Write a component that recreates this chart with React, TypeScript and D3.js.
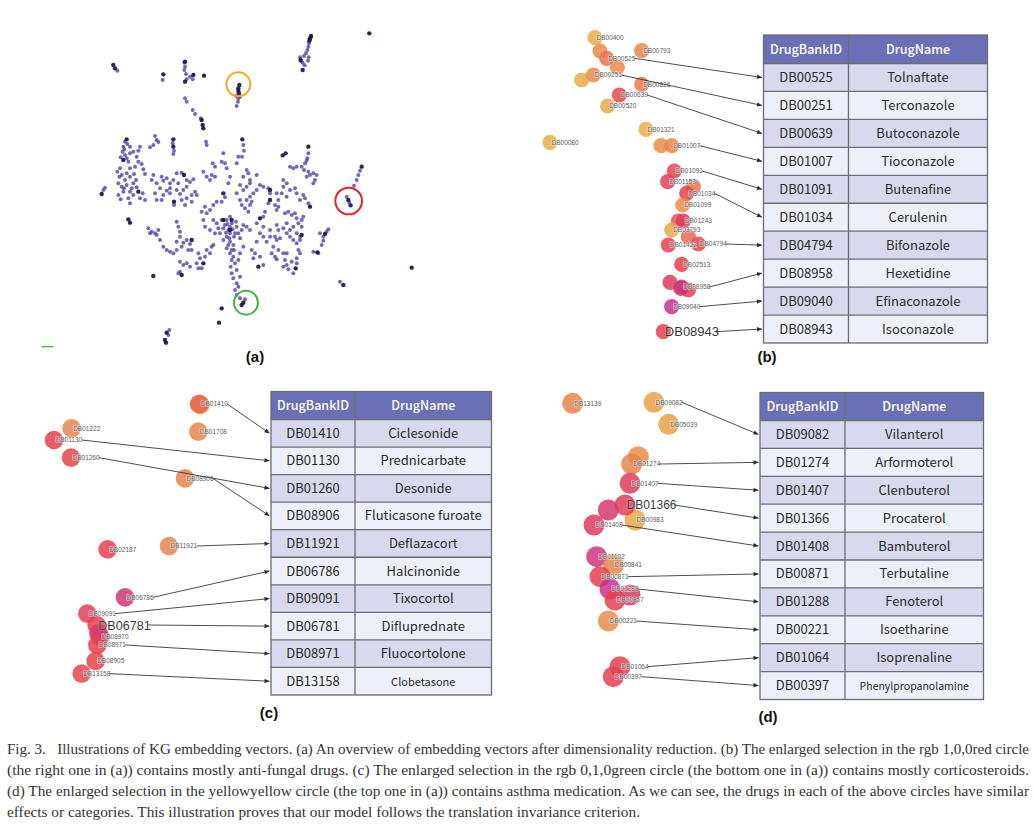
import React from 'react';
import * as d3 from 'd3';

// ---------- (a) overview of the embedding (2-D coordinates after reduction) ----------
const overviewPts: [number, number][] = [
  [843,50],[840,60],[837,70],[835,80],[832,90],[828,100],[822,108],[810,112],[812,122],[818,128],[824,136],[836,112],[834,122],
  [262,152],[398,180],[463,128],[465,140],[463,150],[468,162],[480,170],[488,178],[470,178],[465,235],[470,245],[488,270],[495,282],[512,295],
  [625,235],[624,245],[620,258],[618,228],[630,230],
  [528,365],[530,375],[640,375],[642,392],[636,410],[835,400],[832,415],
  [285,365],[280,380],[292,372],[300,380],[278,395],[285,405],[272,412],[290,415],[300,400],[310,395],[320,410],[325,425],[335,432],[330,380],[325,392],[315,440],[300,445],[270,445],[262,455],[275,465],[290,460],[300,470],[285,480],[265,490],[275,500],[290,495],[310,490],[320,502],[330,535],[345,540],[310,525],[300,515],[280,515],[265,525],[295,535],[300,550],[220,510],[225,503],[340,448],[312,462],[305,505],
  [283,388],[295,425],[268,470],[282,505],[318,480],[338,520],[272,538],
  [375,348],[380,360],[370,375],[360,382],[385,366],[428,370],[432,392],[430,402],
  [345,462],[370,465],[365,480],[380,490],[395,470],[400,482],[410,475],[420,490],[430,480],[440,460],[455,458],[470,480],[480,486],[490,478],[470,500],[460,510],[450,522],[440,510],[420,505],[410,512],[390,505],[375,520],[380,540],[400,525],[432,555],[455,540],[470,535],[485,525],[495,515],[500,525],[485,545],[465,555],[420,520],[395,540],[445,490],
  [355,625],[365,635],[375,640],[385,630],[380,645],[390,660],[400,680],[410,690],[420,695],[440,665],[450,650],[460,668],[470,660],[480,672],[475,690],[485,690],[440,605],[445,620],[450,635],[440,690],[430,700],[360,640],[455,680],
  [450,725],[460,735],[470,730],[480,740],[450,755],[445,760],
  [505,700],[510,715],[515,745],[505,745],[525,710],[540,700],[530,690],[545,680],[550,675],[500,730],
  [520,455],[530,470],[545,465],[555,470],[540,480],[548,430],[555,440],[580,400],[575,425],[585,430],[590,445],[600,470],[595,490],[585,532],[575,545],[560,545],[550,555],[540,570],[525,560],[515,575],[530,580],[550,600],[560,610],[520,600],[525,620],[540,630],[555,640],[575,600],[590,600],[600,590],[605,610],[580,625],[595,630],[600,640],[590,650],[580,660],[600,665],[610,675],[605,690],[600,700],[610,710],[605,720],[615,730],[605,760],[610,775],[620,790],[625,800],[630,770],[620,750],[625,640],[635,630],[640,615],[650,620],[660,630],[620,620],[630,655],[640,680],[630,700],[625,720],[585,615],[570,640],[595,675],[612,650],[618,605],[600,620],[590,685],
  [592,612],[608,628],[615,640],[598,655],[588,638],[612,690],[602,740],[565,625],
  [620,430],[625,410],[650,450],[655,460],[640,470],[660,480],[680,465],[660,490],[650,500],[640,510],[630,495],[620,520],[630,540],[635,555],[645,565],[655,575],[660,555],[665,545],[650,540],[660,530],[670,520],[680,510],[690,495],[700,500],[715,505],[720,520],[715,550],[705,575],[700,590],[680,610],[700,620],[690,640],[700,650],[720,650],[710,665],[680,665],[675,700],[690,710],[700,735],[670,715],[665,690],
  [630,835],[620,825],[615,810],[645,838],
  [418,930],[415,945],
  [780,440],[790,445],[800,440],[815,440],[825,430],[830,422],[822,450],[835,455],[840,465],[830,470],[850,460],[860,465],[855,480],[850,490],
  [760,480],[770,490],[760,500],[755,520],[770,530],[780,510],[795,505],[800,520],[810,540],[820,525],[825,535],[835,550],[740,520],[745,540],[735,555],[745,560],[740,570],
  [765,580],[775,575],[785,585],[795,580],[800,595],[805,610],[790,620],[780,630],[770,610],[760,625],[770,640],[780,650],[790,660],[800,640],[810,650],[815,620],[815,600],[820,590],[810,660],[800,670],[805,690],[810,700],[800,715],[790,760],[800,730],[785,725],
  [740,615],[745,630],[735,650],[740,660],[730,680],[745,690],[725,700],[735,710],[740,718],[760,700],[770,700],[765,720],[760,740],[770,735],[775,748],[750,655],[720,630],
  [870,640],[880,650],[890,635],[895,628],[880,662],[875,675],[850,695],[865,700],
  [930,785],[950,530],[958,548],[990,452],[985,465],[980,480],[972,497],
];

// tight clusters that render almost black
const overviewDense: [number, number][] = [
  [840,55],[843,48],[838,62],[818,150],[812,120],[1018,40],[255,145],[250,135],[400,163],[465,185],[490,165],[465,125],[522,167],
  [628,195],[625,205],[625,213],[627,220],[515,300],[518,315],[520,325],[637,358],[835,380],[290,358],[280,420],[325,515],[215,522],
  [295,598],[300,608],[430,358],[430,380],[758,406],[767,400],[580,520],[370,768],[455,765],[520,730],[575,865],[567,908],[408,968],
  [405,960],[940,795],[1145,743],[955,540],[962,556],[995,440],[690,595],[720,540],[840,560],[797,745],[862,697],[885,642],[432,545],
  [462,465],[485,660],[685,740],[640,848],[635,855],[410,938],[600,630],[605,600],[815,645],[720,510],[580,600],
];

const selections = [
  { name: 'yellow', x: 625, y: 193, r: 36, color: '#f5a81f' },
  { name: 'red', x: 956, y: 543, r: 40, color: '#e3222b' },
  { name: 'green', x: 648, y: 848, r: 36, color: '#4cae4f' },
];

// ---------- zoomed selections ----------
type Bubble = { id: string; x: number; y: number; t: number; label?: boolean; big?: boolean };

const bBubbles: Bubble[] = [
  { id: 'DB00400', x: 195, y: 38, t: 0.05, label: true },
  { id: '', x: 210, y: 78, t: 0.32 },
  { id: 'DB00525', x: 230, y: 100, t: 0.45, label: true },
  { id: '', x: 262, y: 127, t: 0.32 },
  { id: 'DB00793', x: 335, y: 77, t: 0.36, label: true },
  { id: '', x: 155, y: 165, t: 0.05 },
  { id: 'DB00251', x: 190, y: 150, t: 0.3, label: true },
  { id: 'DB00826', x: 335, y: 178, t: 0.42, label: true },
  { id: 'DB00639', x: 268, y: 210, t: 0.66, label: true },
  { id: 'DB00520', x: 233, y: 243, t: 0.08, label: true },
  { id: 'DB01321', x: 348, y: 313, t: 0.05, label: true },
  { id: 'DB00080', x: 60, y: 352, t: 0.05, label: true },
  { id: '', x: 393, y: 362, t: 0.3 },
  { id: 'DB01007', x: 425, y: 362, t: 0.36, label: true },
  { id: 'DB01091', x: 433, y: 438, t: 0.66, label: true },
  { id: 'DB01153', x: 413, y: 470, t: 0.72, label: true },
  { id: '', x: 490, y: 485, t: 0.45 },
  { id: 'DB01034', x: 470, y: 505, t: 0.72, label: true },
  { id: 'DB01099', x: 458, y: 540, t: 0.3, label: true },
  { id: '', x: 445, y: 588, t: 0.6 },
  { id: 'DB01243', x: 460, y: 588, t: 0.78, label: true },
  { id: 'DB03793', x: 425, y: 615, t: 0.1, label: true },
  { id: '', x: 475, y: 635, t: 0.5 },
  { id: 'DB01422', x: 415, y: 660, t: 0.7, label: true },
  { id: 'DB04794', x: 505, y: 657, t: 0.66, label: true },
  { id: 'DB02513', x: 455, y: 718, t: 0.7, label: true },
  { id: '', x: 420, y: 772, t: 0.78 },
  { id: '', x: 475, y: 795, t: 0.7 },
  { id: '', x: 452, y: 790, t: 0.85 },
  { id: 'DB08958', x: 455, y: 786, t: 0.9, label: true },
  { id: 'DB09040', x: 425, y: 845, t: 1.0, label: true },
  { id: 'DB08943', x: 400, y: 920, t: 0.7, label: true, big: true },
];

const cBubbles: Bubble[] = [
  { id: '', x: 512, y: 60, t: 0.05 },
  { id: '', x: 508, y: 57, t: 0.75 },
  { id: 'DB01410', x: 508, y: 57, t: 0.45, label: true },
  { id: 'DB01222', x: 125, y: 130, t: 0.36, label: true },
  { id: 'DB01130', x: 72, y: 165, t: 0.7, label: true },
  { id: 'DB01708', x: 505, y: 140, t: 0.36, label: true },
  { id: 'DB01260', x: 123, y: 218, t: 0.68, label: true },
  { id: 'DB08906', x: 465, y: 280, t: 0.38, label: true },
  { id: 'DB02187', x: 233, y: 493, t: 0.72, label: true },
  { id: 'DB11921', x: 417, y: 483, t: 0.36, label: true },
  { id: 'DB06786', x: 285, y: 637, t: 0.9, label: true },
  { id: 'DB09091', x: 172, y: 686, t: 0.75, label: true },
  { id: 'DB06781', x: 200, y: 720, t: 0.7, label: true, big: true },
  { id: '', x: 205, y: 745, t: 0.8 },
  { id: 'DB08970', x: 210, y: 755, t: 0.85, label: true },
  { id: 'DB08971', x: 202, y: 780, t: 0.7, label: true },
  { id: 'DB08905', x: 197, y: 828, t: 0.68, label: true },
  { id: 'DB13158', x: 155, y: 866, t: 0.65, label: true },
];

const dBubbles: Bubble[] = [
  { id: 'DB13139', x: 68, y: 55, t: 0.36, label: true },
  { id: 'DB09082', x: 312, y: 52, t: 0.15, label: true },
  { id: 'DB05039', x: 356, y: 118, t: 0.15, label: true },
  { id: '', x: 265, y: 215, t: 0.3 },
  { id: 'DB01274', x: 245, y: 237, t: 0.36, label: true },
  { id: 'DB01407', x: 240, y: 295, t: 0.76, label: true },
  { id: '', x: 175, y: 375, t: 0.86 },
  { id: 'DB00983', x: 255, y: 405, t: 0.1, label: true },
  { id: 'DB01366', x: 225, y: 360, t: 0.76, label: true, big: true },
  { id: 'DB01408', x: 132, y: 420, t: 0.8, label: true },
  { id: 'DB01102', x: 140, y: 515, t: 0.92, label: true },
  { id: 'DB00841', x: 190, y: 540, t: 0.36, label: true },
  { id: 'DB00871', x: 150, y: 575, t: 0.7, label: true },
  { id: 'DB01288', x: 180, y: 612, t: 1.0, label: true },
  { id: '', x: 240, y: 630, t: 0.8 },
  { id: 'DB00867', x: 195, y: 645, t: 0.72, label: true },
  { id: 'DB00221', x: 175, y: 708, t: 0.3, label: true },
  { id: 'DB01064', x: 210, y: 845, t: 0.72, label: true },
  { id: 'DB00397', x: 190, y: 875, t: 0.72, label: true },
];

// ---------- tables ----------
const bIds = ['DB00525', 'DB00251', 'DB00639', 'DB01007', 'DB01091', 'DB01034', 'DB04794', 'DB08958', 'DB09040', 'DB08943'];
const bNames = ['Tolnaftate', 'Terconazole', 'Butoconazole', 'Tioconazole', 'Butenafine', 'Cerulenin', 'Bifonazole', 'Hexetidine', 'Efinaconazole', 'Isoconazole'];
const cIds = ['DB01410', 'DB01130', 'DB01260', 'DB08906', 'DB11921', 'DB06786', 'DB09091', 'DB06781', 'DB08971', 'DB13158'];
const cNames = ['Ciclesonide', 'Prednicarbate', 'Desonide', 'Fluticasone furoate', 'Deflazacort', 'Halcinonide', 'Tixocortol', 'Difluprednate', 'Fluocortolone', 'Clobetasone'];
const dIds = ['DB09082', 'DB01274', 'DB01407', 'DB01366', 'DB01408', 'DB00871', 'DB01288', 'DB00221', 'DB01064', 'DB00397'];
const dNames = ['Vilanterol', 'Arformoterol', 'Clenbuterol', 'Procaterol', 'Bambuterol', 'Terbutaline', 'Fenoterol', 'Isoetharine', 'Isoprenaline', 'Phenylpropanolamine'];
const headers = ['DrugBankID', 'DrugName'];

const captionLines = [
  'Fig. 3.   Illustrations of KG embedding vectors. (a) An overview of embedding vectors after dimensionality reduction. (b) The enlarged selection in the rgb 1,0,0red circle',
  '(the right one in (a)) contains mostly anti-fungal drugs. (c) The enlarged selection in the rgb 0,1,0green circle (the bottom one in (a)) contains mostly corticosteroids.',
  '(d) The enlarged selection in the yellowyellow circle (the top one in (a)) contains asthma medication. As we can see, the drugs in each of the above circles have similar',
  'effects or categories. This illustration proves that our model follows the translation invariance criterion.',
];
const captionWidths = [1022, 1022, 1022, 633];

const bubbleColor = d3
  .scaleLinear<string>()
  .domain([0, 0.35, 0.7, 1])
  .range(['#e9b546', '#e8874c', '#e6404f', '#c4328b']);

const SANS = '"Liberation Sans", Arial, sans-serif';
const TABLE_FONT = '"Noto Sans CJK SC", "Noto Sans", sans-serif';

type Layout = {
  x: [number, number]; y: [number, number]; dx: [number, number]; dy: [number, number];
  r: number; bigSize: number;
  table: { x0: number; x1: number; div: number; top: number; head: number; bottom: number };
};

const layoutB: Layout = {
  x: [0, 720], y: [0, 960], dx: [530, 770], dy: [25, 345], r: 7.6, bigSize: 13,
  table: { x0: 763.5, x1: 987.5, div: 848.5, top: 35, head: 63.5, bottom: 343 },
};
const layoutC: Layout = {
  x: [0, 750], y: [0, 960], dx: [30, 280], dy: [385, 705], r: 9.3, bigSize: 12.6,
  table: { x0: 271, x1: 491.5, div: 355, top: 391.5, head: 419.5, bottom: 695 },
};
const layoutD: Layout = {
  x: [0, 630], y: [0, 960], dx: [550, 760], dy: [385, 705], r: 10.5, bigSize: 12,
  table: { x0: 760, x1: 983.5, div: 845, top: 392.5, head: 420.5, bottom: 699.5 },
};

const smallNames: Record<string, number> = { Clobetasone: 11, Phenylpropanolamine: 10.5 };

function Table({ t, ids, names }: { t: Layout['table']; ids: string[]; names: string[] }) {
  const rows = d3.scaleBand<string>().domain(ids).range([t.head, t.bottom]);
  const c1 = (t.x0 + t.div) / 2;
  const c2 = (t.div + t.x1) / 2;
  const border = '#6c6c72';
  return (
    <g>
      <rect x={t.x0} y={t.top} width={t.x1 - t.x0} height={t.head - t.top} fill="#6a70b6" />
      <text x={c1} y={(t.top + t.head) / 2 + 4.5} textAnchor="middle" fill="#fff" fontSize={12.5} fontFamily={TABLE_FONT} fontWeight={500}>{headers[0]}</text>
      <text x={c2} y={(t.top + t.head) / 2 + 4.5} textAnchor="middle" fill="#fff" fontSize={12.5} fontFamily={TABLE_FONT} fontWeight={500}>{headers[1]}</text>
      {ids.map((id, i) => {
        const y0 = rows(id)!;
        const bw = rows.bandwidth();
        return (
          <g key={id}>
            <rect x={t.x0} y={y0} width={t.x1 - t.x0} height={bw} fill={i % 2 === 0 ? '#d8d9ef' : '#eef0f9'} />
            <text x={c1} y={y0 + bw / 2 + 4.5} textAnchor="middle" fill="#2a2a2a" fontSize={13} fontFamily={TABLE_FONT}>{id}</text>
            <text x={c2} y={y0 + bw / 2 + 4.5} textAnchor="middle" fill="#2a2a2a" fontSize={smallNames[names[i]] ?? 13} fontFamily={TABLE_FONT}>{names[i]}</text>
            <line x1={t.x0} x2={t.x1} y1={y0} y2={y0} stroke={border} strokeWidth={1.3} />
          </g>
        );
      })}
      <line x1={t.div} x2={t.div} y1={t.top} y2={t.bottom} stroke={border} strokeWidth={1.3} />
      <rect x={t.x0} y={t.top} width={t.x1 - t.x0} height={t.bottom - t.top} fill="none" stroke={border} strokeWidth={1.3} />
    </g>
  );
}

function Selection({ bubbles, L, ids, names }: { bubbles: Bubble[]; L: Layout; ids: string[]; names: string[] }) {
  const x = d3.scaleLinear().domain(L.x).range(L.dx);
  const y = d3.scaleLinear().domain(L.y).range(L.dy);
  const rows = d3.scaleBand<string>().domain(ids).range([L.table.head, L.table.bottom]);
  const fs = (b: Bubble) => (b.big ? L.bigSize : 6.5);
  const labX = (b: Bubble) => x(b.x) + 1.5;
  const labEnd = (b: Bubble) => labX(b) + b.id.length * fs(b) * 0.556;
  return (
    <g>
      {bubbles.map((b, i) => (
        <circle key={i} cx={x(b.x)} cy={y(b.y)} r={L.r} fill={bubbleColor(b.t)} fillOpacity={0.85} />
      ))}
      {bubbles.filter((b) => b.label).map((b) => (
        <text
          key={b.id}
          x={labX(b)}
          y={y(b.y) + fs(b) * 0.36}
          fontSize={fs(b)}
          fontFamily={SANS}
          fill={b.big ? '#3a3a3a' : '#5a5a5a'}
          stroke="#fff"
          strokeWidth={b.big ? 0.6 : 1.1}
          strokeOpacity={0.7}
          paintOrder="stroke"
        >
          {b.id}
        </text>
      ))}
      {ids.map((id) => {
        const b = bubbles.find((d) => d.id === id && d.label);
        if (!b) return null;
        const x0 = labEnd(b) + 1;
        const y0 = y(b.y);
        const x1 = L.table.x0 - 1.5;
        const y1 = rows(id)! + rows.bandwidth() / 2;
        return <line key={id} x1={x0} y1={y0} x2={x1} y2={y1} stroke="#2d2d2d" strokeWidth={0.85} markerEnd="url(#arrowHead)" />;
      })}
      <Table t={L.table} ids={ids} names={names} />
    </g>
  );
}

export default function App() {
  const ax = d3.scaleLinear().domain([0, 1240]).range([30, 30 + 1240 / 3]);
  const ay = d3.scaleLinear().domain([0, 1000]).range([20, 20 + 1000 / 3]);

  return (
    <div style={{ position: 'absolute', left: 0, top: 0 }}>
      <svg width={1034} height={824} viewBox="0 0 1034 824" style={{ display: 'block', background: '#fff' }}>
        <defs>
          <marker id="arrowHead" viewBox="0 0 10 10" refX={10} refY={5} markerWidth={6} markerHeight={5} markerUnits="userSpaceOnUse" orient="auto">
            <path d="M0,0.5 L10,5 L0,9.5 z" fill="#2d2d2d" />
          </marker>
        </defs>

        {/* (a) overview */}
        <g>
          {overviewPts.map(([px, py], i) => (
            <circle key={'p' + i} cx={ax(px)} cy={ay(py)} r={2} fill="#4f3f9e" fillOpacity={0.78} />
          ))}
          {overviewDense.map(([px, py], i) => (
            <circle key={'d' + i} cx={ax(px)} cy={ay(py)} r={2.2} fill="#1c1448" fillOpacity={0.92} />
          ))}
          {selections.map((s) => (
            <circle key={s.name} cx={ax(s.x)} cy={ay(s.y)} r={ax(s.x + s.r) - ax(s.x)} fill="none" stroke={s.color} strokeWidth={2} />
          ))}
          <line x1={ax(35)} x2={ax(70)} y1={ay(980)} y2={ay(980)} stroke="#4cae4f" strokeWidth={1.3} />
        </g>

        <Selection bubbles={bBubbles} L={layoutB} ids={bIds} names={bNames} />
        <Selection bubbles={cBubbles} L={layoutC} ids={cIds} names={cNames} />
        <Selection bubbles={dBubbles} L={layoutD} ids={dIds} names={dNames} />

        {/* panel tags */}
        <g fontFamily={SANS} fontWeight="bold" fontSize={15} fill="#111" textAnchor="middle">
          <text x={255} y={362}>(a)</text>
          <text x={767} y={362}>(b)</text>
          <text x={269} y={718}>(c)</text>
          <text x={768} y={722}>(d)</text>
        </g>

        {/* caption */}
        <g fontFamily='"Liberation Serif", "Times New Roman", serif' fontSize={14.5} fill="#333">
          {captionLines.map((line, i) => (
            <text
              key={i}
              x={7}
              y={753.5 + i * 21.3}
              textLength={captionWidths[i]}
              lengthAdjust="spacingAndGlyphs"
              style={{ whiteSpace: 'pre' }}
            >
              {line}
            </text>
          ))}
        </g>
      </svg>
    </div>
  );
}
